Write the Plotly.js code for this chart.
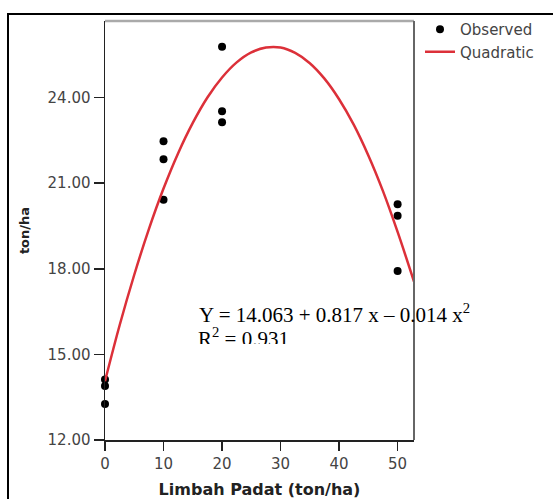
<!DOCTYPE html>
<html>
<head>
<meta charset="utf-8">
<script src="https://cdn.plot.ly/plotly-3.0.1.min.js"></script>
<style>
html,body{margin:0;padding:0;background:#fff;}
#chart{width:553px;height:499px;}
</style>
</head>
<body>
<div id="chart"></div>
<script>
// Observed data (Limbah Padat ton/ha vs yield ton/ha)
const obsX = [0, 0, 0, 10, 10, 10, 20, 20, 20, 50, 50, 50];
const obsY = [14.12, 13.89, 13.26, 22.47, 21.84, 20.42, 25.78, 23.52, 23.13, 20.26, 19.86, 17.92];

// Quadratic fit curve
const fitX = [0, 2.5, 5, 7.5, 10, 12.5, 15, 17.5, 20, 22.5, 25, 27.5, 30, 32.5, 35, 37.5, 40, 42.5, 45, 47.5, 50, 52.8];
const fitY = [14.06, 16.02, 17.79, 19.39, 20.81, 22.05, 23.11, 24.0, 24.70, 25.23, 25.58, 25.75, 25.75, 25.56, 25.20, 24.66, 23.94, 23.05, 21.97, 20.72, 19.29, 17.55];

const xTicks = [0, 10, 20, 30, 40, 50];
const yTicks = [12, 15, 18, 21, 24];

const eqText = 'Y = 14.063 + 0.817 x \u2013 0.014 x<sup>2</sup>';
const r2Text = 'R<sup>2</sup> = 0.931';

const W = 553, H = 499;
const mL = 105, mR = 139, mT = 21, mB = 59;
const pw = W - mL - mR, ph = H - mT - mB;
const px = p => (p - mL) / pw;
const py = p => 1 - (p - mT) / ph;

const sans = 'DejaVu Sans, Verdana, sans-serif';
const tickFont = {family: sans, size: 15, color: '#444'};

const traces = [
  {x: obsX, y: obsY, type: 'scatter', mode: 'markers', name: 'Observed',
   marker: {color: '#000', size: 8, line: {width: 0}}, cliponaxis: false},
  {x: fitX, y: fitY, type: 'scatter', mode: 'lines', name: 'Quadratic',
   line: {color: '#dc3039', width: 2.5, shape: 'spline'}},
  // R² line, clipped at its bottom as in the reference
  {x: [0.0], y: [0.14], xaxis: 'x2', yaxis: 'y2', type: 'scatter', mode: 'text',
   text: [r2Text], textposition: 'middle right', showlegend: false, cliponaxis: true,
   textfont: {family: 'Liberation Serif, Times New Roman, serif', size: 21, color: '#000'}}
];

const layout = {
  width: W, height: H,
  margin: {l: mL, r: mR, t: mT, b: mB},
  paper_bgcolor: '#fff', plot_bgcolor: 'rgba(0,0,0,0)',
  showlegend: true,
  legend: {x: px(420), y: py(13), xanchor: 'left', yanchor: 'top',
           font: {family: sans, size: 15, color: '#444'},
           bgcolor: 'rgba(0,0,0,0)', tracegroupgap: 0},
  xaxis: {range: [0, 52.8], tickvals: xTicks, ticktext: xTicks.map(String),
          showgrid: false, zeroline: false, showline: true, linecolor: '#222', linewidth: 1.5,
          ticks: 'outside', ticklen: 9, tickcolor: '#222', tickwidth: 1.5, tickfont: tickFont,
          title: {text: '<b>Limbah Padat (ton/ha)</b>', standoff: 17,
                  font: {family: sans, size: 16, color: '#222'}}},
  yaxis: {range: [12, 26.68], tickvals: yTicks, ticktext: yTicks.map(v => v.toFixed(2)),
          showgrid: false, zeroline: false, showline: true, linecolor: '#222', linewidth: 1.5,
          ticks: 'outside', ticklen: 10, tickcolor: '#222', tickwidth: 1.5, tickfont: tickFont,
          title: {text: '<b>ton/ha</b>', standoff: 15,
                  font: {family: sans, size: 13, color: '#222'}}},
  xaxis2: {domain: [px(198), 1], anchor: 'y2', range: [0, 1], visible: false, fixedrange: true},
  yaxis2: {domain: [py(344), py(318)], anchor: 'x2', range: [0, 1], visible: false, fixedrange: true},
  shapes: [
    // plot frame top and right
    {type: 'line', xref: 'paper', yref: 'paper', x0: 0, x1: 1, y0: 1, y1: 1,
     line: {color: '#aaa', width: 2.5}},
    {type: 'line', xref: 'paper', yref: 'paper', x0: 1, x1: 1, y0: 0, y1: 1,
     line: {color: '#666', width: 2}},
    // outer figure frame
    {type: 'rect', xref: 'paper', yref: 'paper', x0: px(8), x1: px(600), y0: py(560), y1: py(14),
     line: {color: '#000', width: 2}}
  ],
  annotations: [
    {xref: 'paper', yref: 'paper', x: px(197), y: py(313), xanchor: 'left', yanchor: 'middle',
     text: eqText, showarrow: false,
     font: {family: 'Liberation Serif, Times New Roman, serif', size: 21, color: '#000'}}
  ]
};

Plotly.newPlot('chart', traces, layout, {displayModeBar: false, staticPlot: true});
</script>
</body>
</html>
